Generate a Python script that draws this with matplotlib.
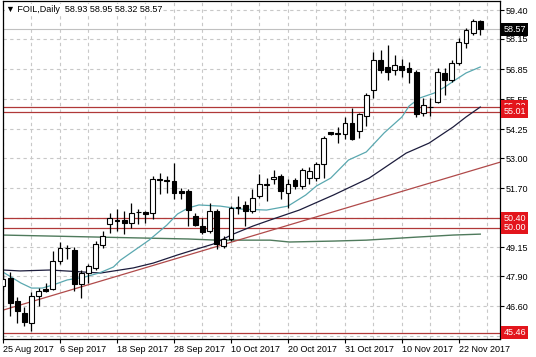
import matplotlib
matplotlib.use("Agg")
import matplotlib.pyplot as plt
import matplotlib.transforms as mtrans
from matplotlib.ticker import MultipleLocator
import numpy as np

# daily candles, bar index 0..67 (25 Aug 2017 .. 28 Nov 2017)
opens = [47.50, 47.82, 46.82, 46.30, 45.86, 47.04, 47.34, 47.34, 48.55, 49.12,
         49.03, 47.56, 48.03, 48.25, 49.25, 50.16, 50.35, 50.33, 50.20, 50.66,
         50.68, 50.64, 52.10, 52.05, 52.02, 51.59, 51.59, 50.51, 50.07, 49.86,
         50.72, 49.20, 49.51, 50.85, 50.98, 50.72, 51.37, 51.85, 52.11, 52.24,
         51.50, 52.07, 51.81, 52.15, 52.15, 52.76, 54.11, 54.06, 54.06, 54.54,
         54.19, 54.84, 55.93, 57.23, 56.93, 56.80, 56.97, 56.88, 56.71, 54.97,
         55.23, 55.41, 56.67, 56.36, 57.10, 57.97, 58.40, 58.93]
highs = [48.00, 48.08, 46.99, 46.56, 47.21, 47.38, 47.60, 48.99, 49.38, 49.25,
         49.16, 48.16, 48.42, 49.42, 49.85, 50.64, 50.81, 50.72, 51.07, 50.81,
         50.72, 52.24, 52.37, 52.24, 52.81, 51.72, 51.68, 50.64, 50.42, 51.07,
         50.81, 49.64, 50.94, 51.37, 51.16, 51.68, 52.33, 52.15, 52.50, 52.33,
         52.11, 52.15, 52.59, 52.60, 52.85, 53.98, 54.15, 54.33, 54.76, 55.15,
         54.97, 55.80, 57.58, 57.66, 57.88, 57.45, 57.27, 57.14, 56.80, 55.58,
         55.58, 56.88, 56.88, 57.23, 58.19, 58.62, 59.01, 58.95]
lows = [47.30, 46.17, 45.86, 45.73, 45.52, 46.60, 47.20, 47.30, 48.42, 48.64,
        47.25, 46.95, 47.60, 48.16, 49.10, 49.77, 49.86, 49.73, 49.99, 50.16,
        50.20, 50.38, 51.46, 51.50, 51.24, 51.24, 50.07, 50.07, 49.73, 49.77,
        49.07, 49.12, 49.42, 50.59, 50.07, 50.64, 51.29, 51.16, 51.89, 51.24,
        50.85, 51.68, 51.68, 51.90, 52.00, 52.15, 54.02, 53.67, 53.85, 53.80,
        53.89, 54.41, 55.58, 56.67, 56.36, 56.58, 56.49, 56.23, 54.76, 54.84,
        54.84, 55.37, 55.71, 56.28, 57.01, 57.75, 58.32, 58.32]
closes = [47.80, 46.73, 46.38, 45.91, 47.04, 47.25, 47.28, 48.55, 49.12, 49.10,
          47.56, 48.03, 48.34, 49.29, 49.66, 50.42, 50.30, 50.20, 50.64, 50.68,
          50.59, 52.11, 52.07, 52.02, 51.50, 51.50, 50.75, 50.12, 49.81, 50.72,
          49.29, 49.51, 50.85, 50.90, 50.72, 51.29, 51.89, 51.90, 52.20, 51.59,
          51.89, 51.81, 52.50, 52.46, 52.76, 53.89, 54.06, 54.08, 54.50, 53.85,
          54.89, 55.71, 57.23, 56.80, 56.71, 57.01, 56.80, 56.71, 54.93, 55.28,
          55.19, 56.71, 56.36, 57.10, 58.01, 58.53, 58.92, 58.57]

# moving averages (bar index, price)
fast_ma_x = [0, 2.5, 4, 5.5, 7, 9, 11.5, 13.5, 15.5, 16.5, 18.5, 20.5, 23, 24.5, 26, 27.5,
             30.5, 33.5, 37, 40, 42.5, 44, 46, 48.5, 51, 53.5, 56, 57, 58.5, 60.5, 62, 63.5, 65, 67]
fast_ma_y = [48.08, 47.61, 47.39, 47.39, 47.52, 47.74, 47.87, 48.04, 48.30, 48.60, 49.03, 49.46,
             50.11, 50.59, 50.85, 50.98, 50.93, 50.80, 50.76, 50.93, 51.41, 51.80, 52.14, 52.92,
             53.27, 54.09, 54.78, 55.25, 55.60, 55.81, 56.07, 56.38, 56.68, 56.94]
slow_ma_x = [0, 2.4, 6.6, 13.7, 18.3, 21.1, 24.5, 26.7, 29.5, 32.3, 35.1, 37.5, 41.6, 46.4,
             51.4, 56.6, 59.8, 63.2, 65, 67]
slow_ma_y = [48.17, 48.13, 48.17, 48.04, 48.26, 48.47, 48.82, 49.03, 49.29, 49.72, 50.07,
             50.33, 50.76, 51.41, 52.14, 53.22, 53.65, 54.35, 54.78, 55.21]
long_ma_x = [0, 13.7, 26, 30, 37.5, 40.2, 46.4, 51, 58, 63.2, 67]
long_ma_y = [49.68, 49.59, 49.51, 49.46, 49.46, 49.38, 49.42, 49.46, 49.59, 49.68, 49.72]

trend_x = [-0.4, 69.8]
trend_y = [46.40, 52.83]

levels = [55.22, 55.01, 50.40, 50.00, 45.46]
last_price = 58.57

yticks = [59.40, 58.15, 56.85, 55.55, 54.25, 53.00, 51.70, 50.40, 49.15, 47.90, 46.60, 45.30]
ytick_labels = ["59.40", "58.15", "56.85", "55.55", "54.25", "53.00", "51.70", "",
                "49.15", "47.90", "46.60", ""]  # 50.40 and 45.30 sit under the level boxes
date_labels = ["25 Aug 2017", "6 Sep 2017", "18 Sep 2017", "28 Sep 2017", "10 Oct 2017",
               "20 Oct 2017", "31 Oct 2017", "10 Nov 2017", "22 Nov 2017"]

plt.rcParams['font.family'] = ['Liberation Sans', 'DejaVu Sans']
fs = 6.5

fig = plt.figure(figsize=(5.36, 3.57), dpi=100)
ax = fig.add_axes([3 / 536, 1 - 339 / 357, 496.5 / 536, 338 / 357])
ax.set_xlim(0.04, 69.7)
ax.set_ylim(45.19, 59.79)

# grid
ax.set_yticks(yticks)
ax.set_yticklabels(ytick_labels)
ax.set_xticks(np.arange(len(date_labels)) * 8)
ax.set_xticklabels(date_labels, ha='left')
ax.xaxis.set_minor_locator(MultipleLocator(4))
ax.grid(which='both', axis='x', color='#c8c8c8', linestyle=(0, (3, 3)), lw=0.8)
ax.grid(which='major', axis='y', color='#c8c8c8', linestyle=(0, (3, 3)), lw=0.8)
ax.set_axisbelow(True)
ax.yaxis.tick_right()
ax.tick_params(axis='y', labelsize=fs, length=3, pad=1.5, width=0.8)
ax.tick_params(axis='x', labelsize=fs, length=3, pad=1, width=0.8)
ax.tick_params(axis='x', which='minor', length=0)
for s in ax.spines.values():
    s.set_color('black')
    s.set_linewidth(0.9)

# levels and current price line
ax.axhline(last_price, color='#c0c0c0', lw=0.8, zorder=1)
for lv in levels:
    ax.axhline(lv, color='#b03838', lw=0.9, zorder=1.5)

# moving averages and trend line
ax.plot(long_ma_x, long_ma_y, color='#4f7a5c', lw=1.0, zorder=2)
ax.plot(trend_x, trend_y, color='#b04a4a', lw=0.9, zorder=2)
ax.plot(slow_ma_x, slow_ma_y, color='#1c1c3c', lw=0.9, zorder=2)
ax.plot(fast_ma_x, fast_ma_y, color='#5aa8b0', lw=0.9, zorder=2)

# candles
x = np.arange(len(opens))
o = np.array(opens)
c = np.array(closes)
ax.vlines(x, lows, highs, color='black', lw=0.9, zorder=3)
up = c >= o
body = np.maximum(np.abs(c - o), 0.03)
bottom = np.minimum(o, c)
ax.bar(x[up], body[up], bottom=bottom[up], width=0.68, color='white',
       edgecolor='black', lw=0.8, zorder=4)
ax.bar(x[~up], body[~up], bottom=bottom[~up], width=0.68, color='black',
       edgecolor='black', lw=0.8, zorder=4)

# price labels on the right scale
tr = mtrans.blended_transform_factory(ax.transAxes, ax.transData)
for lv in levels:
    ax.text(1.008, lv, f"{lv:.2f}", transform=tr, ha='left', va='center', fontsize=fs,
            color='white', clip_on=False, zorder=10,
            bbox=dict(boxstyle='square,pad=0.22', fc='#e3151c', ec='none'))
ax.text(1.008, last_price, f"{last_price:.2f}", transform=tr, ha='left', va='center',
        fontsize=fs, color='white', clip_on=False, zorder=10,
        bbox=dict(boxstyle='square,pad=0.22', fc='black', ec='none'))

ax.text(0.006, 0.976, "\u25bc FOIL,Daily  58.93 58.95 58.32 58.57", transform=ax.transAxes,
        ha='left', va='center', fontsize=fs, color='black', zorder=10,
        bbox=dict(boxstyle='square,pad=0.1', fc='white', ec='none'))

fig.savefig("out.png", dpi=100)
